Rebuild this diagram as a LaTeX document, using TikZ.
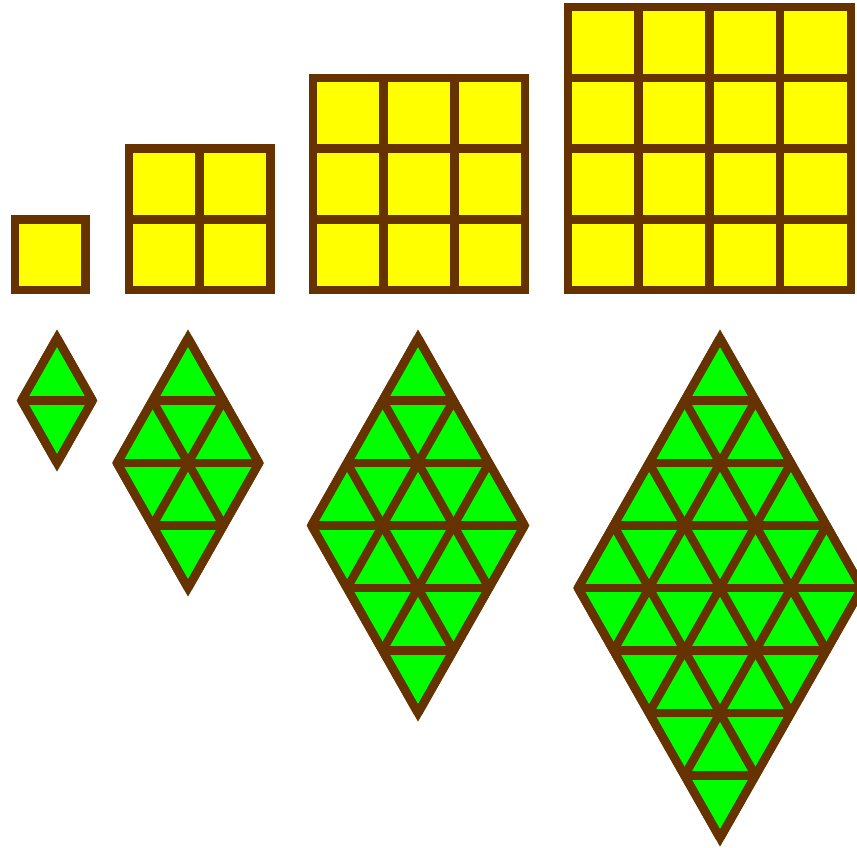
\documentclass[tikz,border=0pt]{standalone}
\usetikzlibrary{calc}
\definecolor{tilebrown}{HTML}{663300}
\definecolor{tileyellow}{HTML}{FFFF00}
\definecolor{tilegreen}{HTML}{00FF00}

\begin{document}
\begin{tikzpicture}[x=0.02cm,y=-0.02cm,line width=0.17cm,
  sqcell/.style={fill=tileyellow,draw=tilebrown},
  triline/.style={draw=tilebrown}]
\useasboundingbox (0,0) rectangle (857,847);
% squares of 1, 4, 9 and 16 cells
\foreach \n/\l in {1/15,2/129,3/313,4/568}{
  \foreach \i in {1,...,\n}{
    \foreach \j in {1,...,\n}{
      \path[sqcell] ({\l+(\i-1)*70.7},{290-(\j-1)*70.7}) rectangle ++(70.7,-70.7);
    }
  }
}
% rhombi of 2, 8, 18 and 32 triangles
\foreach \n/\cx in {1/57,2/188,3/418,4/720}{
  \pgfmathsetmacro\w{\n*35.5}
  \pgfmathsetmacro\hh{\n*62.5}
  \pgfmathtruncatemacro\m{2*\n-1}
  \fill[tilegreen] (\cx,338) -- ++(\w,\hh) -- ++(-\w,\hh) -- ++(-\w,-\hh) -- cycle;
  \foreach \k in {1,...,\m}{
    \pgfmathsetmacro\hw{min(\k,2*\n-\k)*35.5}
    \draw[triline] ({\cx-\hw},{338+\k*62.5}) -- ({\cx+\hw},{338+\k*62.5});
  }
  \foreach \j in {0,...,\n}{
    \draw[triline] ({\cx+\j*35.5},{338+\j*62.5}) -- ({\cx-\w+\j*35.5},{338+\hh+\j*62.5});
    \draw[triline] ({\cx-\j*35.5},{338+\j*62.5}) -- ({\cx+\w-\j*35.5},{338+\hh+\j*62.5});
  }
  \draw[triline] (\cx,338) -- ++(\w,\hh) -- ++(-\w,\hh) -- ++(-\w,-\hh) -- cycle;
}
\end{tikzpicture}
\end{document}
